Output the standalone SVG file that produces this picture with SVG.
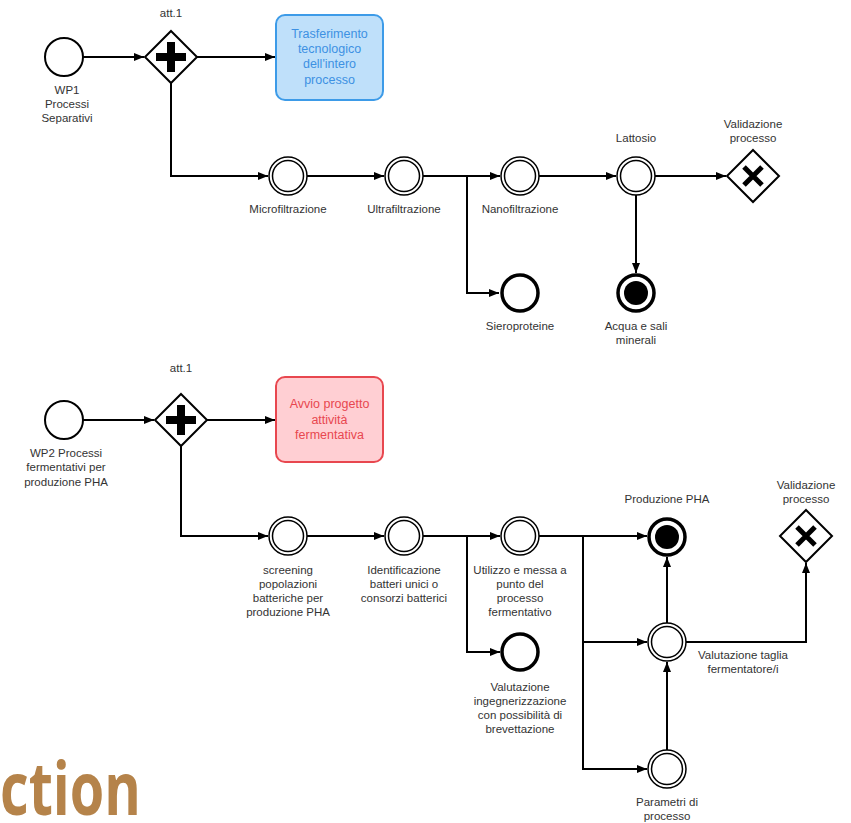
<svg xmlns="http://www.w3.org/2000/svg" width="851" height="823" viewBox="0 0 851 823">
<defs>
<marker id="arr" viewBox="0 0 10 8" refX="10" refY="4" markerWidth="10" markerHeight="8" markerUnits="userSpaceOnUse" orient="auto">
<path d="M0,0 L10,4 L0,8 z" fill="#000"/>
</marker>
<style>
.flow{fill:none;stroke:#000;stroke-width:2;marker-end:url(#arr)}
.start{fill:#fff;stroke:#000;stroke-width:2}
.imo{fill:#fff;stroke:#000;stroke-width:1.5}
.imi{fill:none;stroke:#000;stroke-width:1.5}
.end{fill:#fff;stroke:#000;stroke-width:3.5}
.gw{fill:#fff;stroke:#000;stroke-width:2}
.lbl{font-family:"Liberation Sans",Arial,sans-serif;font-size:11.5px;fill:#333;text-anchor:middle}
.tsk{font-family:"Liberation Sans",Arial,sans-serif;font-size:12.5px;text-anchor:middle}
</style>
</defs>
<rect width="851" height="823" fill="#fff"/>

<g id="connectors">
<path class="flow" d="M83,57 L144,57"/>
<path class="flow" d="M197,57 L275,57"/>
<path class="flow" d="M171,83 L171,176 L268,176"/>
<path class="flow" d="M307,176 L384,176"/>
<path class="flow" d="M423,176 L500,176"/>
<path class="flow" d="M467,176 L467,293 L499,293"/>
<path class="flow" d="M539,176 L616,176"/>
<path class="flow" d="M655,176 L726,176"/>
<path class="flow" d="M636,195 L636,273"/>

<path class="flow" d="M83,420 L154,420"/>
<path class="flow" d="M207,420 L275,420"/>
<path class="flow" d="M181,446 L181,536 L268,536"/>
<path class="flow" d="M307,536 L384,536"/>
<path class="flow" d="M423,536 L500,536"/>
<path class="flow" d="M467,536 L467,652 L500,652"/>
<path class="flow" d="M539,536 L647,536"/>
<path class="flow" d="M583,536 L583,642 L647,642"/>
<path class="flow" d="M583,642 L583,769 L647,769"/>
<path class="flow" d="M667,750 L667,662"/>
<path class="flow" d="M667,623 L667,557"/>
<path class="flow" d="M686,642 L806,642 L806,563"/>
</g>

<g id="start1">
<circle class="start" cx="64" cy="57" r="19"/>
<text class="lbl" x="67" y="94">WP1</text>
<text class="lbl" x="67" y="108">Processi</text>
<text class="lbl" x="67" y="122">Separativi</text>
</g>
<g id="gw1">
<path class="gw" d="M171,31 L197,57 L171,83 L145,57 z"/>
<path d="M156,57 H186 M171,42 V72" stroke="#000" stroke-width="8" fill="none"/>
<text class="lbl" x="171" y="17">att.1</text>
</g>
<g id="task1">
<rect x="276" y="15" width="107" height="85" rx="9" fill="#bfe0fa" stroke="#3d9be8" stroke-width="2"/>
<text class="tsk" fill="#3d91e3" x="329.5" y="38">Trasferimento</text>
<text class="tsk" fill="#3d91e3" x="329.5" y="53">tecnologico</text>
<text class="tsk" fill="#3d91e3" x="329.5" y="68">dell'intero</text>
<text class="tsk" fill="#3d91e3" x="329.5" y="84">processo</text>
</g>
<g id="micro">
<circle class="imo" cx="288" cy="176" r="19"/><circle class="imi" cx="288" cy="176" r="15.5"/>
<text class="lbl" x="288" y="213">Microfiltrazione</text>
</g>
<g id="ultra">
<circle class="imo" cx="404" cy="176" r="19"/><circle class="imi" cx="404" cy="176" r="15.5"/>
<text class="lbl" x="404" y="213">Ultrafiltrazione</text>
</g>
<g id="nano">
<circle class="imo" cx="520" cy="176" r="19"/><circle class="imi" cx="520" cy="176" r="15.5"/>
<text class="lbl" x="520" y="213">Nanofiltrazione</text>
</g>
<g id="lattosio">
<circle class="imo" cx="636" cy="176" r="19"/><circle class="imi" cx="636" cy="176" r="15.5"/>
<text class="lbl" x="636" y="142">Lattosio</text>
</g>
<g id="valid1">
<path class="gw" d="M753,150 L779,176 L753,202 L727,176 z"/>
<path d="M744,167 L762,185 M762,167 L744,185" stroke="#000" stroke-width="5" fill="none"/>
<text class="lbl" x="753" y="128">Validazione</text>
<text class="lbl" x="753" y="142">processo</text>
</g>
<g id="siero">
<circle class="end" cx="520" cy="293" r="18"/>
<text class="lbl" x="520" y="330">Sieroproteine</text>
</g>
<g id="acqua">
<circle class="end" cx="636" cy="293" r="18"/>
<circle cx="636" cy="293" r="12" fill="#000"/>
<text class="lbl" x="636" y="330">Acqua e sali</text>
<text class="lbl" x="636" y="344">minerali</text>
</g>

<g id="start2">
<circle class="start" cx="64" cy="420" r="19"/>
<text class="lbl" x="66" y="457">WP2 Processi</text>
<text class="lbl" x="66" y="471">fermentativi per</text>
<text class="lbl" x="66" y="486">produzione PHA</text>
</g>
<g id="gw2">
<path class="gw" d="M181,394 L207,420 L181,446 L155,420 z"/>
<path d="M166,420 H196 M181,405 V435" stroke="#000" stroke-width="8" fill="none"/>
<text class="lbl" x="181" y="372">att.1</text>
</g>
<g id="task2">
<rect x="276" y="377" width="107" height="85" rx="9" fill="#ffcfd3" stroke="#e8474f" stroke-width="2"/>
<text class="tsk" fill="#e8474f" x="329.5" y="408">Avvio progetto</text>
<text class="tsk" fill="#e8474f" x="329.5" y="424">attività</text>
<text class="tsk" fill="#e8474f" x="329.5" y="439">fermentativa</text>
</g>
<g id="screening">
<circle class="imo" cx="288" cy="536" r="19"/><circle class="imi" cx="288" cy="536" r="15.5"/>
<text class="lbl" x="288" y="574">screening</text>
<text class="lbl" x="288" y="588">popolazioni</text>
<text class="lbl" x="288" y="602">batteriche per</text>
<text class="lbl" x="288" y="616">produzione PHA</text>
</g>
<g id="identificazione">
<circle class="imo" cx="404" cy="536" r="19"/><circle class="imi" cx="404" cy="536" r="15.5"/>
<text class="lbl" x="404" y="574">Identificazione</text>
<text class="lbl" x="404" y="588">batteri unici o</text>
<text class="lbl" x="404" y="602">consorzi batterici</text>
</g>
<g id="utilizzo">
<circle class="imo" cx="520" cy="536" r="19"/><circle class="imi" cx="520" cy="536" r="15.5"/>
<text class="lbl" x="520" y="574">Utilizzo e messa a</text>
<text class="lbl" x="520" y="588">punto del</text>
<text class="lbl" x="520" y="602">processo</text>
<text class="lbl" x="520" y="616">fermentativo</text>
</g>
<g id="ingegnerizzazione">
<circle class="end" cx="520" cy="652" r="18"/>
<text class="lbl" x="520" y="691">Valutazione</text>
<text class="lbl" x="520" y="705">ingegnerizzazione</text>
<text class="lbl" x="520" y="719">con possibilità di</text>
<text class="lbl" x="520" y="733">brevettazione</text>
</g>
<g id="produzione">
<circle class="end" cx="667" cy="537" r="18"/>
<circle cx="667" cy="537" r="12" fill="#000"/>
<text class="lbl" x="667" y="503">Produzione PHA</text>
</g>
<g id="taglia">
<circle class="imo" cx="667" cy="642" r="19"/><circle class="imi" cx="667" cy="642" r="15.5"/>
<text class="lbl" x="743" y="659">Valutazione taglia</text>
<text class="lbl" x="743" y="673">fermentatore/i</text>
</g>
<g id="parametri">
<circle class="imo" cx="667" cy="769" r="19"/><circle class="imi" cx="667" cy="769" r="15.5"/>
<text class="lbl" x="667" y="806">Parametri di</text>
<text class="lbl" x="667" y="820">processo</text>
</g>
<g id="valid2">
<path class="gw" d="M806,510 L832,536 L806,562 L780,536 z"/>
<path d="M797,527 L815,545 M815,527 L797,545" stroke="#000" stroke-width="5" fill="none"/>
<text class="lbl" x="806" y="489">Validazione</text>
<text class="lbl" x="806" y="503">processo</text>
</g>

<text x="0" y="815" font-family="'Open Sans',sans-serif" font-weight="bold" font-size="74" fill="#b5834a" textLength="141" lengthAdjust="spacingAndGlyphs">ction</text>
</svg>
